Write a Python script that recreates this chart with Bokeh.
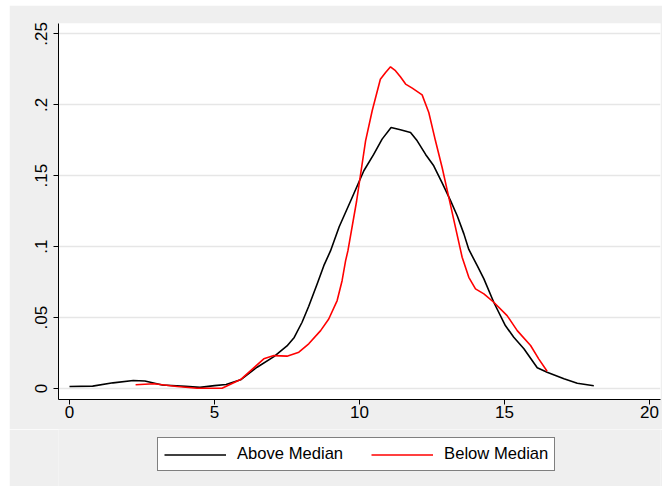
from bokeh.plotting import figure
from bokeh.models import Legend, LegendItem, Range1d, FixedTicker
from bokeh.layouts import column
from bokeh.embed import file_html
from bokeh.resources import INLINE

# Kernel density: Above Median
above_x = [0, 0.8, 1.5, 2.2, 2.6, 3.2, 4.0, 4.5, 5.0, 5.4, 5.9, 6.47, 7.05, 7.5, 7.75, 8.02,
           8.25, 8.54, 8.77, 9.0, 9.3, 9.69, 10.15, 10.49, 10.78, 11.09, 11.41, 11.76, 11.99,
           12.28, 12.56, 12.85, 13.14, 13.37, 13.6, 13.77, 14.06, 14.29, 14.63, 15.03, 15.32,
           15.67, 16.13, 16.47, 17.05, 17.51, 18.08]
above_y = [0.0014, 0.0017, 0.0040, 0.0056, 0.0053, 0.0025, 0.0015, 0.0008, 0.0020, 0.0028,
           0.0061, 0.0150, 0.0225, 0.0300, 0.0360, 0.0467, 0.0580, 0.0737, 0.0866, 0.0970,
           0.1140, 0.1320, 0.1535, 0.1650, 0.1758, 0.1840, 0.1824, 0.1805, 0.1746, 0.1650,
           0.1570, 0.1450, 0.1324, 0.1218, 0.1090, 0.0980, 0.0866, 0.0773, 0.0608, 0.0444,
           0.0361, 0.0280, 0.0146, 0.0115, 0.0068, 0.0037, 0.0019]

# Kernel density: Below Median
below_x = [2.28, 2.91, 3.71, 4.4, 5.26, 5.9, 6.7, 7.05, 7.5, 7.91, 8.25, 8.66, 8.94, 9.23,
           9.40, 9.52, 9.60, 9.9, 10.21, 10.44, 10.72, 10.9, 11.07, 11.24, 11.41, 11.59,
           11.82, 12.16, 12.39, 12.62, 12.85, 13.08, 13.31, 13.54, 13.77, 14.0, 14.29, 14.63,
           15.09, 15.44, 15.9, 16.18, 16.47]
below_y = [0.0026, 0.0033, 0.0014, 0.0002, 0.0002, 0.0063, 0.0209, 0.0232, 0.0228, 0.0256,
           0.0315, 0.0408, 0.049, 0.062, 0.076, 0.090, 0.097, 0.132, 0.1746, 0.196, 0.218,
           0.2228, 0.2268, 0.224, 0.2197, 0.2146, 0.2117, 0.207, 0.1946, 0.1746, 0.1558,
           0.1347, 0.1136, 0.0925, 0.0784, 0.0702, 0.0667, 0.0608, 0.0514, 0.0408, 0.0303,
           0.0209, 0.0122]

x_ticks = [0, 5, 10, 15, 20]
y_ticks = [0, 0.05, 0.10, 0.15, 0.20, 0.25]
y_tick_labels = ["0", ".05", ".1", ".15", ".2", ".25"]
series_names = ["Above Median", "Below Median"]
series_colors = ["black", "#FF0000"]

FONT = "Liberation Sans"
BG = "#EFEFEF"
W = 653

p = figure(width=W, height=424, output_backend="svg", toolbar_location=None,
           x_range=Range1d(-0.379, 20.38), y_range=Range1d(-0.00775, 0.2573),
           min_border_left=49, min_border_right=2, min_border_top=18, min_border_bottom=30)
p.background_fill_color = "white"
p.border_fill_color = BG
p.outline_line_color = None

p.line(above_x, above_y, line_color=series_colors[0], line_width=1.6)
p.line(below_x, below_y, line_color=series_colors[1], line_width=1.6)

# axes
p.xaxis.ticker = FixedTicker(ticks=x_ticks)
p.yaxis.ticker = FixedTicker(ticks=y_ticks)
p.yaxis.major_label_overrides = {t: l for t, l in zip(y_ticks, y_tick_labels)}
p.yaxis.major_label_orientation = "vertical"
for ax in (p.xaxis, p.yaxis):
    ax.axis_line_color = "black"
    ax.axis_line_width = 1
    ax.major_tick_line_color = "black"
    ax.major_tick_out = 5
    ax.major_tick_in = 0
    ax.minor_tick_line_color = None
    ax.major_label_text_font = FONT
    ax.major_label_text_font_size = "17px"
    ax.major_label_text_color = "black"
p.xaxis.major_label_standoff = 1
p.yaxis.major_label_standoff = 6

p.xgrid.grid_line_color = None
p.ygrid.ticker = FixedTicker(ticks=y_ticks)
p.ygrid.grid_line_color = "#E6E6E6"
p.ygrid.grid_line_width = 1.5

# legend strip (separate figure below the plot, same background and same side borders)
lg = figure(width=W, height=57, output_backend="svg", toolbar_location=None,
            x_range=Range1d(0, 1), y_range=Range1d(0, 1),
            x_axis_type=None, y_axis_type=None,
            min_border_left=49, min_border_right=2, min_border_top=0, min_border_bottom=0)
lg.background_fill_color = BG
lg.border_fill_color = BG
lg.outline_line_color = None
lg.xgrid.grid_line_color = None
lg.ygrid.grid_line_color = None
# legend-only renderers, their data lie outside the visible range
g1 = lg.line([-5, -4], [-5, -4], line_color=series_colors[0], line_width=1.6)
g2 = lg.line([-5, -4], [-5, -4], line_color=series_colors[1], line_width=1.6)

legend = Legend(items=[LegendItem(label=series_names[0], renderers=[g1]),
                       LegendItem(label=series_names[1], renderers=[g2])],
                orientation="horizontal", location=(99, 15),
                glyph_width=62, glyph_height=19, label_standoff=11, spacing=28,
                padding=6, margin=0,
                border_line_color="black", border_line_width=1,
                background_fill_color="white", background_fill_alpha=1,
                label_text_font=FONT, label_text_font_size="16.6px", label_text_color="black")
lg.add_layout(legend, "center")

layout = column(p, lg, spacing=0)
layout.margin = (5, 0, 0, 9)

open("out.html", "w").write(file_html(layout, INLINE))
